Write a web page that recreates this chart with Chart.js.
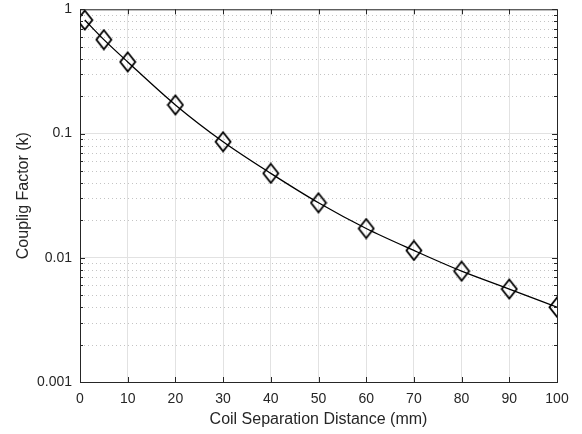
<!DOCTYPE html>
<html>
<head>
<meta charset="utf-8">
<script src="https://cdn.jsdelivr.net/npm/chart.js@4"></script>
<style>
  html, body { margin: 0; padding: 0; background: #fff; }
  #wrap { width: 582px; height: 434px; }
</style>
</head>
<body>
<div id="wrap"><canvas id="couplingChart"></canvas></div>
<script>
// coil separation (mm) and measured coupling factor k
const distances = [1, 5, 10, 20, 30, 40, 50, 60, 70, 80, 90, 100];
const coupling = [0.82, 0.57, 0.377, 0.170, 0.0859, 0.0478, 0.0277, 0.0172, 0.01145, 0.0078, 0.0056, 0.0040];
const decadeTicks = [0.001, 0.01, 0.1, 1];
const xTickStep = 10;

const AXIS_COLOR = '#262626';
const GRID_COLOR = '#e2e2e2';
const MINOR_GRID_COLOR = '#c4c4c4';
const FONT = { family: '"Liberation Sans", Arial, sans-serif', size: 14 };
const TITLE_FONT = { family: '"Liberation Sans", Arial, sans-serif', size: 16 };

// open diamond marker, a little taller than wide
function diamondMarker() {
    const c = document.createElement('canvas');
    c.width = 18; c.height = 22;
    const g = c.getContext('2d');
    g.strokeStyle = '#000';
    g.lineWidth = 1.8;
    g.beginPath();
    g.moveTo(9, 1.5);
    g.lineTo(16.5, 11);
    g.lineTo(9, 20.5);
    g.lineTo(1.5, 11);
    g.closePath();
    g.stroke();
    return c;
}

// minor log gridlines (dotted), inward tick marks and the closing box
const matlabAxes = {
    id: 'matlabAxes',
    beforeDatasetsDraw(chart) {
        const { ctx, chartArea: a, scales: { y } } = chart;
        ctx.save();
        ctx.strokeStyle = MINOR_GRID_COLOR;
        ctx.lineWidth = 1;
        ctx.setLineDash([1, 3]);
        for (let d = 0; d < decadeTicks.length - 1; d++) {
            for (let m = 2; m <= 9; m++) {
                const py = Math.round(y.getPixelForValue(decadeTicks[d] * m)) + 0.5;
                ctx.beginPath();
                ctx.moveTo(a.left, py);
                ctx.lineTo(a.right, py);
                ctx.stroke();
            }
        }
        ctx.restore();
    },
    afterDatasetsDraw(chart) {
        const { ctx, chartArea: a, scales: { x, y } } = chart;
        ctx.save();
        ctx.strokeStyle = AXIS_COLOR;
        ctx.lineWidth = 1;
        ctx.beginPath();
        // top and right edges of the box
        ctx.moveTo(a.left, a.top + 0.5);
        ctx.lineTo(a.right + 0.5, a.top + 0.5);
        ctx.lineTo(a.right + 0.5, a.bottom);
        // x ticks, bottom and top
        for (let v = x.min; v <= x.max; v += xTickStep) {
            const px = Math.round(x.getPixelForValue(v)) + 0.5;
            ctx.moveTo(px, a.bottom); ctx.lineTo(px, a.bottom - 5);
            ctx.moveTo(px, a.top); ctx.lineTo(px, a.top + 5);
        }
        // y ticks, major and minor, left and right
        for (let d = 0; d < decadeTicks.length; d++) {
            for (let m = 1; m <= 9; m++) {
                const v = decadeTicks[d] * m;
                if (v > y.max * 1.0001) break;
                const len = m === 1 ? 5 : 3;
                const py = Math.round(y.getPixelForValue(v)) + 0.5;
                ctx.moveTo(a.left, py); ctx.lineTo(a.left + len, py);
                ctx.moveTo(a.right, py); ctx.lineTo(a.right - len, py);
            }
        }
        ctx.stroke();
        ctx.restore();
    }
};

const ctx = document.getElementById('couplingChart').getContext('2d');
const couplingChart = new Chart(ctx, {
    type: 'line',
    data: {
        datasets: [{
            data: distances.map((d, i) => ({ x: d, y: coupling[i] })),
            borderColor: '#000',
            borderWidth: 1.3,
            backgroundColor: 'transparent',
            cubicInterpolationMode: 'monotone',
            pointStyle: diamondMarker(),
            pointRadius: 8,
            pointHoverRadius: 8
        }]
    },
    options: {
        responsive: true,
        maintainAspectRatio: false,
        animation: false,
        devicePixelRatio: 1,
        layout: { padding: { top: 5, right: 25, left: 0, bottom: 0 } },
        plugins: {
            legend: { display: false },
            tooltip: { enabled: false }
        },
        scales: {
            x: {
                type: 'linear',
                min: 0,
                max: 100,
                ticks: { stepSize: xTickStep, color: AXIS_COLOR, font: FONT, padding: 9, maxRotation: 0 },
                grid: { color: GRID_COLOR, drawTicks: false },
                border: { color: AXIS_COLOR, width: 1 },
                title: { display: true, text: 'Coil Separation Distance (mm)', color: AXIS_COLOR, font: TITLE_FONT, padding: { top: 0, bottom: 5 } },
                afterFit(scale) {
                    scale.height = 52;
                    scale.paddingLeft = 0;
                    scale.paddingRight = 0;
                }
            },
            y: {
                type: 'logarithmic',
                min: 0.001,
                max: 1,
                afterBuildTicks(scale) {
                    scale.ticks = decadeTicks.map(v => ({ value: v, major: true }));
                },
                ticks: {
                    color: AXIS_COLOR,
                    font: FONT,
                    padding: 8,
                    callback: v => String(v)
                },
                grid: { color: GRID_COLOR, drawTicks: false },
                border: { color: AXIS_COLOR, width: 1 },
                title: { display: true, text: 'Couplig Factor (k)', color: AXIS_COLOR, font: TITLE_FONT, padding: { top: 14, bottom: 0 } },
                afterFit(scale) {
                    scale.width = 80;
                    scale.paddingTop = 0;
                    scale.paddingBottom = 0;
                }
            }
        }
    },
    plugins: [matlabAxes]
});
</script>
</body>
</html>
